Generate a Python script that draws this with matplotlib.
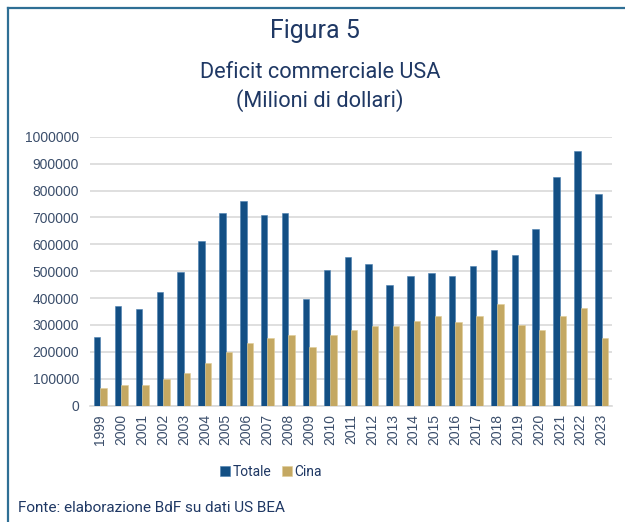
import numpy as np
import matplotlib
matplotlib.use('Agg')
from matplotlib import pyplot as plt
from matplotlib.lines import Line2D

# Data (millions of dollars)
years = ['1999', '2000', '2001', '2002', '2003', '2004', '2005', '2006', '2007',
         '2008', '2009', '2010', '2011', '2012', '2013', '2014', '2015', '2016',
         '2017', '2018', '2019', '2020', '2021', '2022', '2023']
totale = [256000, 370000, 361000, 423000, 496000, 613000, 717000, 762000, 710000,
          715000, 395000, 504000, 554000, 527000, 447000, 484000, 493000, 481000,
          518000, 580000, 561000, 657000, 849000, 945000, 786000]
cina = [67000, 78000, 78000, 100000, 121000, 159000, 200000, 232000, 253000,
        261000, 219000, 261000, 281000, 297000, 297000, 315000, 333000, 310000,
        333000, 378000, 300000, 281000, 333000, 364000, 250000]
yticks = [0, 100000, 200000, 300000, 400000, 500000, 600000, 700000, 800000, 900000, 1000000]

blue = '#134f84'
gold = '#c4a862'
navy = '#1f3864'
ticktxt = '#3b4e6b'

fig = plt.figure(figsize=(6.25, 5.22), dpi=100)
ax = fig.add_axes([90/625, 1 - 405.7/522, 522/625, 269/522])

x = np.arange(len(years))
w = 0.31
ax.bar(x - 0.155, totale, w, color=blue, edgecolor='#4a7fb0', linewidth=0.4, label='Totale', zorder=3)
ax.bar(x + 0.155, cina, w, color=gold, edgecolor='#e0cc96', linewidth=0.4, label='Cina', zorder=3)

ax.set_xlim(-0.5, len(years) - 0.5)
ax.set_ylim(0, 1000000)
ax.set_yticks(yticks)
ax.set_yticklabels([str(v) for v in yticks])
ax.set_xticks(x)
ax.set_xticklabels(years, rotation=90)
ax.tick_params(length=0, labelsize=10, labelcolor=ticktxt)
ax.tick_params(axis='y', pad=8)
ax.tick_params(axis='x', pad=6)
for lab in ax.get_xticklabels() + ax.get_yticklabels():
    lab.set_family('Liberation Sans')
ax.yaxis.grid(True, color='#d9d9d9', linewidth=1.2, zorder=0)
ax.set_axisbelow(True)
for s in ['top', 'right', 'left']:
    ax.spines[s].set_visible(False)
ax.spines['bottom'].set_color('#d9d9d9')
ax.spines['bottom'].set_linewidth(1.2)

# Titles
fig.text(315/625, 1 - 31/522, 'Figura 5', ha='center', va='center',
         fontsize=18, color=navy, family='Roboto')
fig.text(320/625, 1 - 72/522, 'Deficit commerciale USA', ha='center', va='center',
         fontsize=15.7, color=navy, family='Roboto')
fig.text(320/625, 1 - 101/522, '(Milioni di dollari)', ha='center', va='center',
         fontsize=15.7, color=navy, family='Roboto')

leg = fig.legend(loc='center', bbox_to_anchor=(271/625, 1 - 472/522), ncol=2, frameon=False,
                 handlelength=0.7, handleheight=0.7, handletextpad=0.2, columnspacing=0.8,
                 prop={'family': 'Roboto', 'size': 10})
for t in leg.get_texts():
    t.set_color(navy)

fig.text(18/625, 1 - 508/522, 'Fonte: elaborazione BdF su dati US BEA', ha='left', va='center',
         fontsize=11, color=navy, family='Roboto')

# Frame lines (left and top)
fig.add_artist(Line2D([8/625, 8/625], [0, 1 - 8/522], color='#2f6f95', linewidth=1.6))
fig.add_artist(Line2D([8/625, 1], [1 - 8/522, 1 - 8/522], color='#2f6f95', linewidth=1.6))

plt.savefig('out.png', dpi=100)
